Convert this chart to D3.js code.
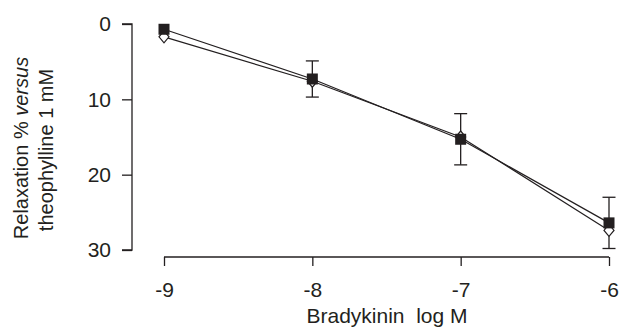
<!DOCTYPE html>
<html>
<head>
<meta charset="utf-8">
<script src="https://cdn.jsdelivr.net/npm/d3@7"></script>
<style>
  body { margin: 0; background: #fff; }
  text { font-family: "Liberation Sans", Arial, sans-serif; fill: #231f20; }
</style>
</head>
<body>
<div id="chart"></div>
<script>
// log M concentrations
const doses = [-9, -8, -7, -6];
// filled squares
const squareMean = [0.7, 7.3, 15.3, 26.4];
const squareErr = [0, 2.4, 3.4, 3.4];
// open diamonds
const diamondMean = [1.7, 7.6, 15.0, 27.4];
const yTicks = [0, 10, 20, 30];

const width = 622, height = 332;
const ink = "#231f20";

let svg = d3.select("#chart").append("svg")
  .attr("width", width).attr("height", height);

let x = d3.scaleLinear().domain([-9, -6]).range([164, 609]);
let y = d3.scaleLinear().domain([0, 30]).range([24, 250]);

// y axis
let yAxis = d3.axisLeft(y).tickValues(yTicks).tickSize(10).tickPadding(11).tickFormat(d3.format("d"));
let gy = svg.append("g").attr("transform", "translate(132,0)").call(yAxis);
gy.select(".domain").attr("d", "M-10," + y(0) + "H0V" + y(30) + "H-10");

// x axis, hyphen instead of unicode minus
let xAxis = d3.axisBottom(x).tickValues(doses).tickSize(9).tickPadding(16)
  .tickFormat(d => String(d));
let gx = svg.append("g").attr("transform", "translate(0,257)").call(xAxis);
gx.select(".domain").attr("d", "M" + x(-9) + ",0H" + x(-6));

svg.selectAll(".domain, .tick line").attr("stroke", ink).attr("stroke-width", 1.3);
svg.selectAll(".tick text").style("font-size", "21px").attr("fill", ink);

// axis titles
svg.append("text")
  .attr("x", 387).attr("y", 323)
  .attr("text-anchor", "middle")
  .style("font-size", "21px")
  .style("white-space", "pre")
  .text("Bradykinin  log M");

let yl = svg.append("text")
  .attr("transform", "translate(28,148) rotate(-90)")
  .attr("text-anchor", "middle")
  .style("font-size", "20px");
yl.append("tspan").text("Relaxation % ");
yl.append("tspan").style("font-style", "italic").text("versus");
svg.append("text")
  .attr("transform", "translate(53,150) rotate(-90)")
  .attr("text-anchor", "middle")
  .style("font-size", "20px")
  .text("theophylline 1 mM");

let line = d3.line().x((d, i) => x(doses[i])).y(d => y(d));

// error bars (squares)
let errG = svg.append("g").attr("stroke", ink).attr("stroke-width", 1.3);
squareMean.forEach((m, i) => {
  if (squareErr[i] === 0) return;
  let cx = x(doses[i]);
  let y0 = y(m - squareErr[i]), y1 = y(m + squareErr[i]);
  errG.append("line").attr("x1", cx).attr("x2", cx).attr("y1", y0).attr("y2", y1);
  errG.append("line").attr("x1", cx - 6.5).attr("x2", cx + 6.5).attr("y1", y0).attr("y2", y0);
  errG.append("line").attr("x1", cx - 6.5).attr("x2", cx + 6.5).attr("y1", y1).attr("y2", y1);
});

svg.append("path").datum(diamondMean).attr("d", line)
  .attr("fill", "none").attr("stroke", ink).attr("stroke-width", 1.2);
svg.append("path").datum(squareMean).attr("d", line)
  .attr("fill", "none").attr("stroke", ink).attr("stroke-width", 1.2);

// diamonds
svg.selectAll(".diamond").data(diamondMean).enter().append("path")
  .attr("class", "diamond")
  .attr("d", "M0,-6L5,0L0,6L-5,0Z")
  .attr("transform", (d, i) => "translate(" + x(doses[i]) + "," + y(d) + ")")
  .attr("fill", "#fff").attr("stroke", ink).attr("stroke-width", 1.2);

// squares
svg.selectAll(".square").data(squareMean).enter().append("rect")
  .attr("class", "square")
  .attr("x", (d, i) => x(doses[i]) - 5.5)
  .attr("y", d => y(d) - 5.5)
  .attr("width", 11).attr("height", 11)
  .attr("fill", ink);
</script>
</body>
</html>
